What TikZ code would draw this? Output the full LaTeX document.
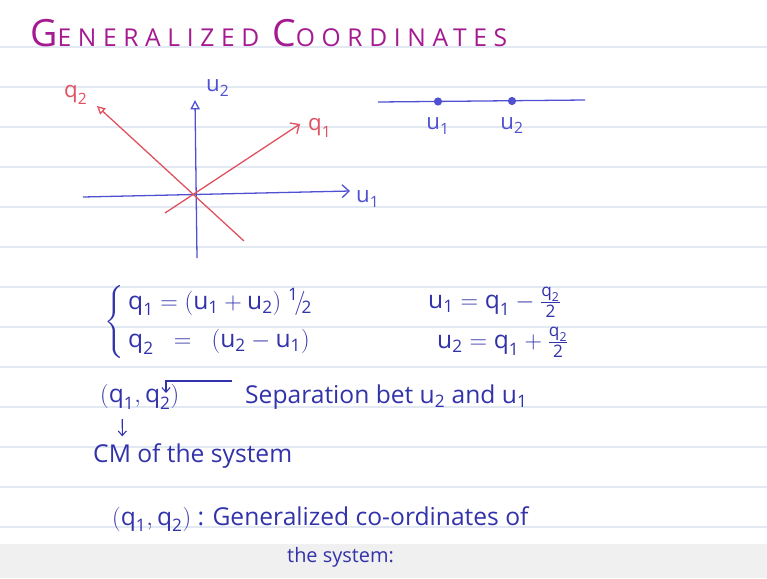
\documentclass[tikz,border=0pt]{standalone}
\usepackage{amsmath}
\usepackage{fontspec}
\setmainfont{Open Sans}
\usetikzlibrary{arrows.meta,positioning,calc}

\definecolor{titlepink}{RGB}{165,25,145}
\definecolor{inkblue}{RGB}{50,50,170}
\definecolor{axisblue}{RGB}{80,80,210}
\definecolor{qred}{RGB}{225,80,95}
\definecolor{rulegray}{RGB}{226,233,242}

\newcommand{\qsym}[1]{\text{q}_{\text{#1}}}
\newcommand{\usym}[1]{\text{u}_{\text{#1}}}

\begin{document}
\begin{tikzpicture}[
  x=0.03cm, y=-0.03cm,
  hand/.style={text=inkblue, font=\fontsize{21}{25}\selectfont, inner sep=0pt, anchor=west},
  small hand/.style={hand, font=\fontsize{19}{22}\selectfont},
  uaxis/.style={draw=axisblue, line width=1.1pt, -{Straight Barb[length=6pt,width=11pt]}},
  qaxis/.style={draw=qred, line width=1.1pt, -{Straight Barb[length=6pt,width=11pt]}},
  inkarrow/.style={draw=inkblue, line width=0.9pt, -{Straight Barb[length=4pt,width=7pt]}},
  dot/.style={circle, fill=axisblue, inner sep=0pt, minimum size=7pt},
  rule/.style={draw=rulegray, line width=1pt}
]
\useasboundingbox (0,0) rectangle (767,578);

% paper
\fill[white] (0,0) rectangle (767,578);
\foreach \y in {47,87,...,527}
  \draw[rule] (0,\y) -- (767,\y);
\fill[gray!12] (0,544) rectangle (767,578);

% title
\node[anchor=base west, inner sep=0pt, text=titlepink] (title) at (30,46)
  {\addfontfeature{LetterSpace=27}{\fontsize{32}{32}\selectfont G}{\fontsize{21}{21}\selectfont ENERALIZED}\hspace{11pt}{\fontsize{32}{32}\selectfont C}{\fontsize{21}{21}\selectfont OORDINATES}};

% axes u1, u2
\coordinate (u1tail) at (83,197);
\coordinate (u1tip) at (350,191);
\coordinate (u2tail) at (197,258);
\coordinate (u2tip) at (195,100);
\draw[uaxis] (u1tail) -- (u1tip);
\draw[draw=axisblue, line width=1.1pt, -{Triangle[open,length=8pt,width=8pt]}] (u2tail) -- (u2tip);
\node[small hand, text=axisblue] (u1lab) at (356,199) {$\usym{1}$};
\node[small hand, text=axisblue] (u2lab) at (206,88) {$\usym{2}$};

% axes q1, q2
\coordinate (q1tail) at (165,213);
\coordinate (q1tip) at (300,124);
\coordinate (q2tail) at (244,241);
\coordinate (q2tip) at (97,106);
\draw[qaxis] (q1tail) -- (q1tip);
\draw[draw=qred, line width=1.1pt, -{Triangle[open,length=7pt,width=7pt]}] (q2tail) -- (q2tip);
\node[small hand, text=qred] (q1lab) at (308,128) {$\qsym{1}$};
\node[small hand, text=qred] (q2lab) at (64,95) {$\qsym{2}$};

% two particles on a line
\coordinate (lineL) at (378,102);
\coordinate (lineR) at (585,100);
\draw[draw=axisblue, line width=1.1pt] (lineL) -- (lineR);
\node[dot] (p1) at (438,101.5) {};
\node[dot] (p2) at (512,101) {};
\node[small hand, text=axisblue, anchor=north, below=0.36cm of p1] (p1lab) {$\usym{1}$};
\node[small hand, text=axisblue, anchor=north, below=0.36cm of p2] (p2lab) {$\usym{2}$};

% transformation
\node[hand] (brace) at (104,322) {$\left\{\rule[-27pt]{0pt}{64pt}\right.$};
\node[hand] (eqone) at (128,302) {$\qsym{1} = (\usym{1}+\usym{2})\;{}^{\text{1}}\!/\!{}_{\text{2}}$};
\node[hand] (eqtwo) at (128,342) {$\qsym{2} \;\;=\;\; (\usym{2}-\usym{1})$};
\node[hand] (eqthree) at (428,302) {$\usym{1} = \qsym{1} - \frac{\qsym{2}}{\text{2}}$};
\node[hand] (eqfour) at (437,342) {$\usym{2} = \qsym{1} + \frac{\qsym{2}}{\text{2}}$};

% meaning of q1, q2
\node[hand] (pair) at (100,397) {$(\qsym{1},\qsym{2})$};
\node[hand] (sep) at (245,397) {Separation bet $\usym{2}$ and $\usym{1}$};
\coordinate (sepend) at (232,381);
\coordinate (sepcorner) at (166,381);
\coordinate (q2top) at (166,393);
\draw[inkarrow] (sepend) -- (sepcorner) -- (q2top);
\node[hand] (cm) at (93,456) {CM of the system};
\draw[inkarrow] ([xshift=19pt,yshift=-8pt]pair.south west) -- ([xshift=25pt,yshift=6pt]cm.north west);

\node[hand] (gen) at (112,519) {$(\qsym{1},\qsym{2})$ : Generalized co-ordinates of};
\node[small hand, font=\fontsize{17}{20}\selectfont] (gentwo) at (287,557) {the system:};

\end{tikzpicture}
\end{document}
